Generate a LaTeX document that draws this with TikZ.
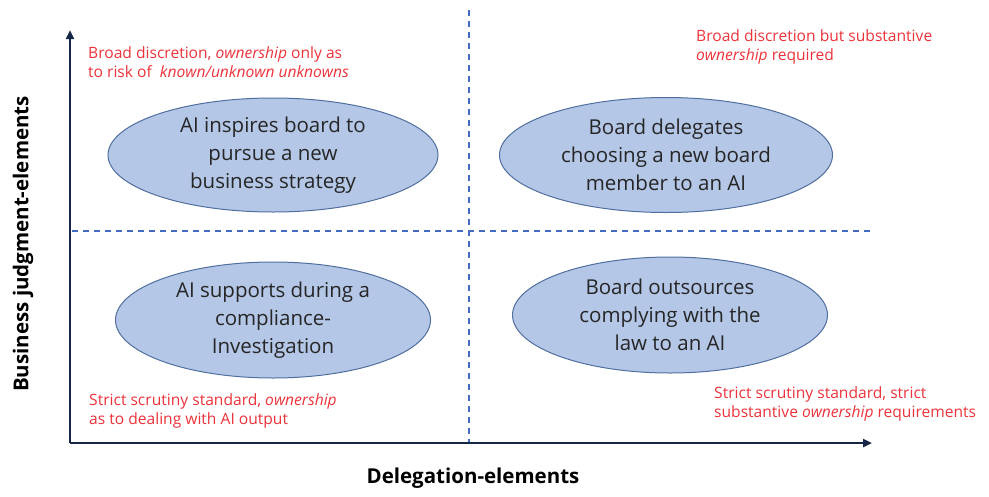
\documentclass[tikz,border=0pt]{standalone}
\usepackage{fontspec}
\setmainfont{Open Sans}
\usetikzlibrary{arrows.meta,shapes.geometric}
\definecolor{axisnavy}{RGB}{22,38,70}
\definecolor{dashblue}{RGB}{68,106,196}
\definecolor{ovalfill}{RGB}{180,199,231}
\definecolor{ovaledge}{RGB}{80,110,160}
\definecolor{notered}{RGB}{236,50,58}
\begin{document}
\begin{tikzpicture}[x=1pt,y=-1pt,
  axis/.style={line width=2.6pt,draw=axisnavy,-{Triangle[length=9pt,width=8pt]}},
  divider/.style={draw=dashblue,line width=1.2pt,dash pattern=on 6pt off 5pt},
  oval/.style={ellipse,draw=ovaledge,line width=1pt,fill=ovalfill,inner sep=0pt,
    align=center,text=black!85,font=\fontsize{20.5}{28}\selectfont},
  note/.style={anchor=west,inner sep=0pt,align=left,text=notered,
    font=\fontsize{15.6}{19.5}\selectfont},
  axislabel/.style={inner sep=0pt,font=\fontsize{20.5}{24}\selectfont\bfseries}]
\useasboundingbox (0,0) rectangle (989,496);

% axes and quadrant dividers
\coordinate (O) at (70,443);
\coordinate (ytip) at (70,30);
\coordinate (xtip) at (872,443);
\coordinate (vtop) at (469,10);
\coordinate (vbot) at (469,443);
\coordinate (hleft) at (72,231);
\coordinate (hright) at (872,231);
\draw[divider] (vtop) -- (vbot);
\draw[divider] (hleft) -- (hright);
\draw[axis] (O) -- (ytip);
\draw[axis] (O) -- (xtip);

% axis titles
\node[axislabel] (xlab) at (473,478) {Delegation-elements};
\node[axislabel,rotate=90] (ylab) at (23,244) {Business judgment-elements};

% scenarios
\node[oval,minimum width=330pt,minimum height=114pt] (q1) at (273,155)
  {AI inspires board to\\pursue a new\\business strategy};
\node[oval,minimum width=333pt,minimum height=115pt] (q2) at (666,155)
  {Board delegates\\choosing a new board\\member to an AI};
\node[oval,minimum width=315pt,minimum height=116pt] (q3) at (273,320)
  {AI supports during a\\compliance-\\Investigation};
\node[oval,minimum width=315pt,minimum height=116pt] (q4) at (670,315)
  {Board outsources\\complying with the\\law to an AI};

% standards of review
\node[note] (n1) at (88,62) {Broad discretion, \textit{ownership} only as\\to risk of \ \textit{known/unknown unknowns}};
\node[note] (n2) at (696,47) {Broad discretion but substantive\\\textit{ownership} required};
\node[note] (n3) at (89,411) {Strict scrutiny standard, \textit{ownership}\\as to dealing with AI output};
\node[note] (n4) at (714,404) {Strict scrutiny standard, strict\\substantive \textit{ownership} requirements};
\end{tikzpicture}
\end{document}
